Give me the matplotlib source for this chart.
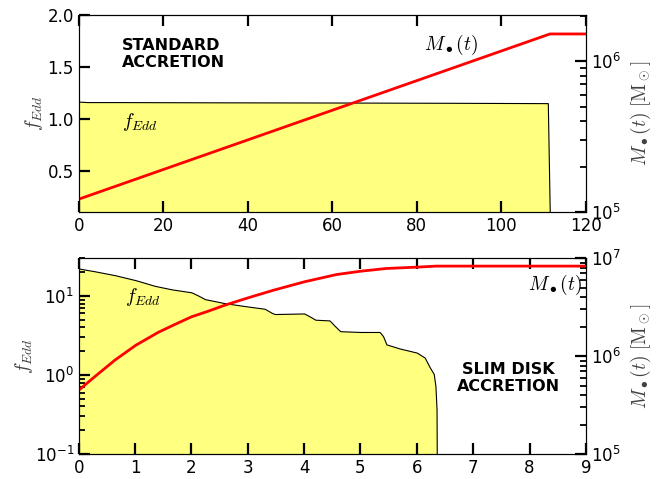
import numpy as np
import matplotlib
matplotlib.use("Agg")
import matplotlib.pyplot as plt
from matplotlib.ticker import LogLocator, LogFormatterSciNotation, NullFormatter

plt.rcParams["mathtext.fontset"] = "cm"
plt.rcParams["font.size"] = 12

### Standard accretion (top panel)
t_std = [0, 2, 10, 30, 60, 90, 111.0, 111.5, 120]
f_std = [1.165, 1.16, 1.16, 1.158, 1.156, 1.153, 1.15, 0.0, 0.0]
t_m_std = [0, 111.5, 120]
m_std = [1.22e5, 1.51e6, 1.51e6]

### Slim disk accretion (bottom panel)
t_slim = [0, 0.28, 0.64, 1.01, 1.35, 1.65, 2.0, 2.12, 2.24, 2.59, 3.0, 3.3, 3.43, 3.48,
          4.0, 4.1, 4.2, 4.45, 4.55, 4.64, 5.0, 5.34, 5.4, 5.46, 5.7, 6.0, 6.14, 6.23,
          6.3, 6.33, 6.35, 6.36, 9.0]
f_slim = [22.2, 20.5, 18.3, 15.8, 13.4, 12.1, 11.1, 10.1, 9.1, 8.1, 7.35, 6.88, 6.08, 5.9,
          6.0, 5.5, 5.0, 4.9, 4.13, 3.58, 3.5, 3.5, 3.1, 2.44, 2.16, 1.92, 1.66, 1.25,
          1.03, 0.73, 0.37, 0.01, 0.01]
t_m_slim = [0, 0.28, 0.64, 1.01, 1.41, 1.7, 2.0, 2.3, 2.59, 3.0, 3.45, 4.0, 4.57, 5.0,
            5.46, 6.0, 6.35, 9.0]
m_slim = [4.5e5, 6.15e5, 9.1e5, 1.29e6, 1.75e6, 2.1e6, 2.52e6, 2.88e6, 3.31e6, 3.93e6,
          4.7e6, 5.73e6, 6.8e6, 7.36e6, 7.85e6, 8.1e6, 8.3e6, 8.3e6]

fill_color = "#ffff80"

fig = plt.figure(figsize=(6.68, 4.79), dpi=100)

# ---------------- top panel ----------------
ax_top = fig.add_axes([0.118, 0.557, 0.759, 0.412])
ax_top.tick_params(which="both", direction="in", color="k", length=8, width=1.6, top=True)
ax_top.fill_between(t_std, f_std, 0, facecolor=fill_color, edgecolor="k", lw=0.8)
ax_top.set_xlim(0, 120)
ax_top.set_ylim(0.1, 2.0)
ax_top.set_xticks(np.arange(0, 121, 20))
ax_top.set_yticks([0.5, 1.0, 1.5, 2.0])
ax_top.set_ylabel(r"$f_{Edd}$", fontsize=14, color="0.25", labelpad=2)
ax_top.text(10.2, 1.47, "STANDARD\nACCRETION", fontsize=11.5, fontweight="bold",
            ha="left", va="bottom", linespacing=1.15)
ax_top.text(10.2, 0.97, r"$f_{Edd}$", fontsize=14, ha="left", va="center")

ax_top_r = ax_top.twinx()
ax_top_r.plot(t_m_std, m_std, color="red", lw=2)
ax_top_r.set_yscale("log")
ax_top_r.yaxis.set_minor_locator(LogLocator(base=10, subs=np.arange(2, 10)))
ax_top_r.yaxis.set_minor_formatter(NullFormatter())
ax_top_r.set_ylim(1e5, 2.02e6)
ax_top_r.tick_params(which="major", direction="in", color="k", length=8, width=1.6)
ax_top_r.tick_params(which="minor", direction="in", color="k", length=4.5, width=1.3)
ax_top_r.set_ylabel(r"$M_\bullet(t)\ [\mathrm{M}_\odot]$", fontsize=14, color="0.25", labelpad=6)
ax_top_r.text(88, 1.28e6, r"$M_\bullet(t)$", fontsize=14, ha="center", va="center")

# ---------------- bottom panel ----------------
ax_bot = fig.add_axes([0.118, 0.052, 0.759, 0.409])
ax_bot.tick_params(which="both", direction="in", color="k", length=8, width=1.6, top=True)
ax_bot.fill_between(t_slim, f_slim, 1e-3, facecolor=fill_color, edgecolor="k", lw=0.8)
ax_bot.set_yscale("log")
ax_bot.set_xlim(0, 9)
ax_bot.set_ylim(0.1, 30)
ax_bot.set_xticks(np.arange(0, 10, 1))
ax_bot.yaxis.set_minor_locator(LogLocator(base=10, subs=np.arange(2, 10)))
ax_bot.yaxis.set_minor_formatter(NullFormatter())
ax_bot.tick_params(axis="y", which="minor", direction="in", color="k", length=4.5, width=1.3)
ax_bot.set_ylabel(r"$f_{Edd}$", fontsize=14, color="0.25", labelpad=0)
ax_bot.text(0.82, 9.8, r"$f_{Edd}$", fontsize=14, ha="left", va="center")
ax_bot.text(7.62, 0.92, "SLIM DISK\nACCRETION", fontsize=11.5, fontweight="bold",
            ha="center", va="center", linespacing=1.15)

ax_bot_r = ax_bot.twinx()
ax_bot_r.plot(t_m_slim, m_slim, color="red", lw=2)
ax_bot_r.set_yscale("log")
ax_bot_r.yaxis.set_minor_locator(LogLocator(base=10, subs=np.arange(2, 10)))
ax_bot_r.yaxis.set_minor_formatter(NullFormatter())
ax_bot_r.set_ylim(1e5, 1e7)
ax_bot_r.tick_params(which="major", direction="in", color="k", length=8, width=1.6)
ax_bot_r.tick_params(which="minor", direction="in", color="k", length=4.5, width=1.3)
ax_bot_r.set_ylabel(r"$M_\bullet(t)\ [\mathrm{M}_\odot]$", fontsize=14, color="0.25", labelpad=6)
ax_bot_r.text(8.45, 5.3e6, r"$M_\bullet(t)$", fontsize=14, ha="center", va="center")

fig.savefig("out.png", dpi=100)
